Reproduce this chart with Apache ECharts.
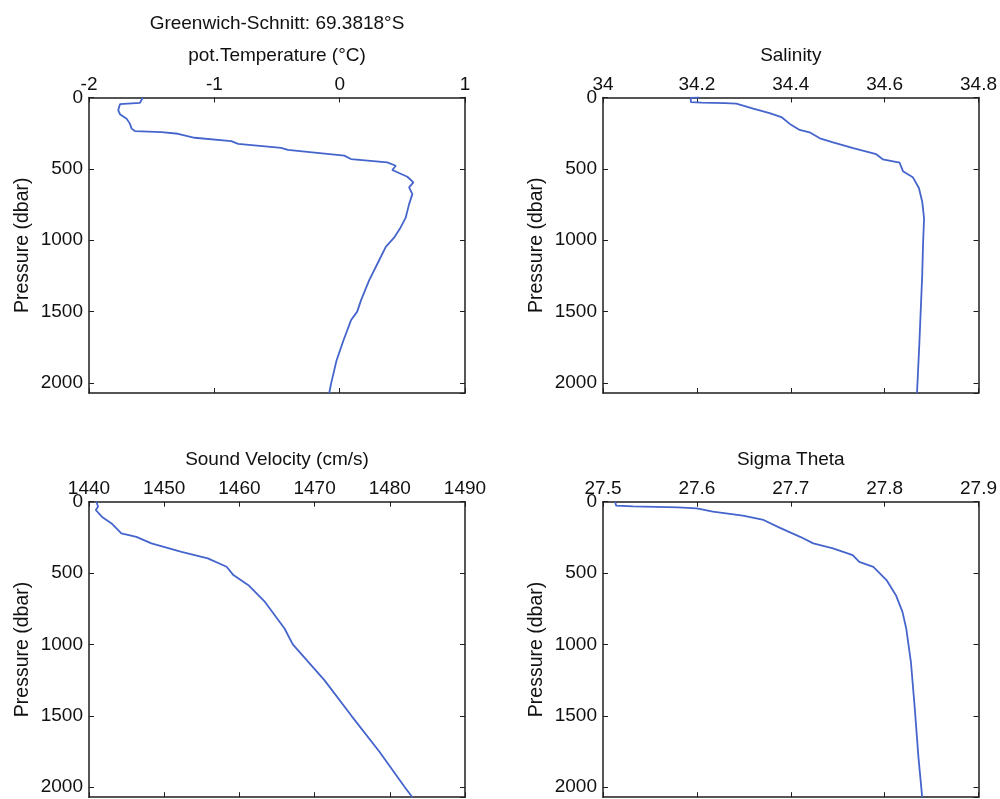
<!DOCTYPE html>
<html>
<head>
<meta charset="utf-8">
<script src="https://cdn.jsdelivr.net/npm/echarts@6.0.0/dist/echarts.min.js"></script>
<style>
  html, body { margin: 0; padding: 0; background: #fff; }
  #chart { width: 1000px; height: 799px; }
</style>
</head>
<body>
<div id="chart"></div>
<script>
// pot. temperature profile
const tempP = [0, 38, 47, 89, 117, 148, 183, 218, 235, 242, 254, 282, 306, 325, 353, 367, 407, 431, 455, 478, 508, 555, 595, 630, 677, 747, 841, 920, 982, 1047, 1140, 1281, 1421, 1500, 1561, 1702, 1842, 2006, 2070];
const tempV = [-1.57, -1.594, -1.753, -1.767, -1.753, -1.70, -1.674, -1.66, -1.634, -1.42, -1.29, -1.157, -0.865, -0.81, -0.467, -0.414, 0.037, 0.09, 0.38, 0.448, 0.42, 0.54, 0.588, 0.554, 0.58, 0.554, 0.527, 0.48, 0.434, 0.368, 0.315, 0.235, 0.17, 0.14, 0.09, 0.03, -0.025, -0.069, -0.083];

// salinity profile
const salP = [0, 3, 32, 36, 40, 43, 78, 109, 137, 185, 227, 244, 286, 315, 355, 397, 433, 457, 516, 558, 634, 728, 847, 1012, 1248, 1721, 2070];
const salV = [34.205, 34.187, 34.187, 34.21, 34.26, 34.284, 34.32, 34.355, 34.38, 34.398, 34.419, 34.44, 34.462, 34.49, 34.533, 34.582, 34.596, 34.632, 34.639, 34.66, 34.673, 34.68, 34.684, 34.682, 34.68, 34.674, 34.669];

// sound velocity profile
const svelP = [0, 35, 58, 105, 152, 222, 246, 292, 351, 397, 456, 514, 585, 702, 888, 1000, 1250, 1500, 1750, 2000, 2070];
const svelV = [1441.0, 1441.2, 1440.9, 1441.7, 1443.0, 1444.3, 1446.3, 1448.3, 1452.3, 1455.8, 1458.3, 1459.2, 1461.2, 1463.4, 1466.0, 1467.1, 1471.3, 1474.9, 1478.6, 1482.0, 1483.0];

// sigma theta profile
const sigP = [0, 28, 33, 40, 47, 70, 98, 128, 182, 246, 292, 327, 374, 421, 456, 549, 655, 772, 888, 1123, 1439, 1789, 2070];
const sigV = [27.513, 27.514, 27.532, 27.58, 27.6, 27.617, 27.649, 27.671, 27.688, 27.71, 27.724, 27.745, 27.766, 27.773, 27.788, 27.802, 27.812, 27.819, 27.823, 27.828, 27.832, 27.836, 27.84];

const pressureTicks = [0, 500, 1000, 1500, 2000];
const pressureMax = 2070;

const FONT = 'Liberation Sans, Arial, sans-serif';
const LINE_COLOR = '#4565cc';
const AXIS_COLOR = '#1e1e1e';

const panels = [
  { title: 'Greenwich-Schnitt: 69.3818°S\npot.Temperature (°C)', p: tempP, v: tempV, min: -2, max: 1, interval: 1, left: 89, top: 97.5 },
  { title: 'Salinity', p: salP, v: salV, min: 34, max: 34.8, interval: 0.2, left: 603, top: 97.5 },
  { title: 'Sound Velocity (cm/s)', p: svelP, v: svelV, min: 1440, max: 1490, interval: 10, left: 89, top: 501.7 },
  { title: 'Sigma Theta', p: sigP, v: sigV, min: 27.5, max: 27.9, interval: 0.1, left: 603, top: 501.7 }
];

const grid = [], xAxis = [], yAxis = [], series = [];

panels.forEach(function (pn, i) {
  grid.push({ left: pn.left, top: pn.top, width: 376, height: 295.5 });

  const lineStyle = { color: AXIS_COLOR, width: 1.5 };
  const tick = { show: true, inside: true, length: 5, lineStyle: { color: AXIS_COLOR, width: 1 } };

  // top axis with labels and title
  xAxis.push({
    type: 'value', gridIndex: i, position: 'top',
    min: pn.min, max: pn.max, interval: pn.interval,
    name: pn.title, nameLocation: 'middle', nameGap: 26,
    nameTextStyle: { fontSize: 19, fontFamily: FONT, color: '#111', lineHeight: 32 },
    axisLine: { show: true, onZero: false, lineStyle: lineStyle },
    axisTick: tick,
    axisLabel: {
      fontSize: 19, fontFamily: FONT, color: '#111', margin: 3,
      formatter: function (val) { return String(Number(val.toFixed(2))); }
    },
    splitLine: { show: false }
  });
  // bottom mirror axis
  xAxis.push({
    type: 'value', gridIndex: i, position: 'bottom',
    min: pn.min, max: pn.max, interval: pn.interval,
    axisLine: { show: true, onZero: false, lineStyle: lineStyle },
    axisTick: tick,
    axisLabel: { show: false },
    splitLine: { show: false }
  });
  // left pressure axis
  yAxis.push({
    type: 'value', gridIndex: i, position: 'left', inverse: true,
    min: 0, max: pressureMax, interval: 500,
    name: 'Pressure (dbar)', nameLocation: 'middle', nameGap: 56, nameRotate: 90,
    nameTextStyle: { fontSize: 19.5, fontFamily: FONT, color: '#111' },
    axisLine: { show: true, onZero: false, lineStyle: lineStyle },
    axisTick: tick,
    axisLabel: {
      fontSize: 19, fontFamily: FONT, color: '#111', margin: 6, showMaxLabel: false,
      formatter: function (val) { return pressureTicks.indexOf(val) >= 0 ? String(val) : ''; }
    },
    splitLine: { show: false }
  });
  // right mirror axis
  yAxis.push({
    type: 'value', gridIndex: i, position: 'right', inverse: true,
    min: 0, max: pressureMax, interval: 500,
    axisLine: { show: true, onZero: false, lineStyle: lineStyle },
    axisTick: tick,
    axisLabel: { show: false },
    splitLine: { show: false }
  });

  series.push({
    type: 'line',
    xAxisIndex: i * 2,
    yAxisIndex: i * 2,
    data: pn.p.map(function (p, k) { return [pn.v[k], p]; }),
    showSymbol: false,
    symbol: 'none',
    lineStyle: { color: LINE_COLOR, width: 1.8 },
    animation: false
  });
});

const chart = echarts.init(document.getElementById('chart'));
chart.setOption({
  backgroundColor: '#fff',
  animation: false,
  grid: grid,
  xAxis: xAxis,
  yAxis: yAxis,
  series: series
});
</script>
</body>
</html>
